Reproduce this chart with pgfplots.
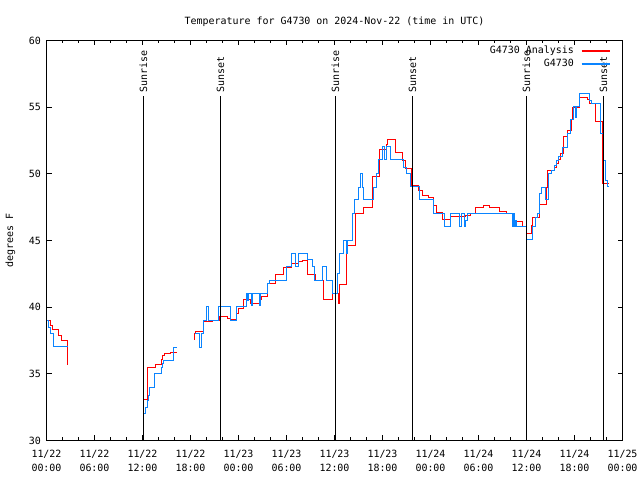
\documentclass[border=0pt]{standalone}
\usepackage{fontspec}
\setmainfont{DejaVu Sans Mono}
\usepackage{pgfplots}
\pgfplotsset{compat=1.18}
\definecolor{obsblue}{HTML}{0A84FF}
\definecolor{anared}{HTML}{FF0000}
\begin{document}
\begin{tikzpicture}
\useasboundingbox (0,0) rectangle (640bp,480bp);
\fill[white] (0,0) rectangle (640bp,480bp);
\begin{axis}[
  at={(46.5bp,39.5bp)}, anchor=south west,
  scale only axis, width=576bp, height=400bp,
  xmin=0, xmax=72, ymin=30, ymax=60,
  x filter/.expression={round(8*x)/8},
  y filter/.expression={30+round((y-30)*40/3)*3/40},
  xtick={0,6,...,72},
  xticklabels={11/22\\00:00,11/22\\06:00,11/22\\12:00,11/22\\18:00,11/23\\00:00,11/23\\06:00,11/23\\12:00,11/23\\18:00,11/24\\00:00,11/24\\06:00,11/24\\12:00,11/24\\18:00,11/25\\00:00},
  minor x tick num=2,
  ytick={30,35,...,60},
  tick align=inside, major tick length=5bp, minor tick length=3bp,
  tick style={black, line width=1bp},
  axis line style={line width=1bp},
  xticklabel style={align=center, font=\fontsize{10}{14}\selectfont, yshift=-6pt},
  yticklabel style={xshift=-2pt},
  /pgf/number format/assume math mode=true,
  title={Temperature for G4730 on 2024-Nov-22 (time in UTC)},
  every axis title/.style={at={(axis description cs:0.5,1)}, anchor=base, yshift=16pt},
  ylabel={degrees F},
  every axis y label/.style={at={(axis description cs:-0.0625,0.5)}, rotate=90, anchor=center},
  legend style={at={(1,1)}, anchor=north east, xshift=-12bp, yshift=-4bp, draw=none, fill=none,
    inner sep=0pt, row sep=0pt, column sep=6bp,
    nodes={text height=7bp, text depth=2bp, inner ysep=2bp, inner xsep=1bp}},
  legend cell align=right,
  legend plot pos=right,
  legend image code/.code={\draw[#1] (0bp,0bp) -- (28bp,0bp);},
]
% analysis
\addplot[draw=anared, line width=1.5bp, const plot] coordinates {
(0,39.0)(0.5,38.6)(0.79,38.3)(1.54,37.9)(1.84,37.5)(2.66,35.7)};
\addlegendentry{G4730 Analysis}
% observations
\addplot[draw=obsblue, line width=1.5bp, const plot] coordinates {
(0,39.0)(0.29,38.5)(0.5,38.0)(0.88,37.05)(2.66,37.05)};
\addlegendentry{G4730}
\addplot[draw=anared, line width=1.5bp, const plot, forget plot] coordinates {
(12.21,33.1)(12.59,35.5)(13.66,35.7)(14.34,36.05)(14.54,36.4)(14.75,36.5)(15.5,36.6)(16.34,36.6)};
\addplot[draw=obsblue, line width=1.5bp, const plot, forget plot] coordinates {
(12.21,32.0)(12.41,32.45)(12.59,33.0)(12.75,33.4)(12.91,33.95)(13.54,35.0)(14.34,35.5)(14.5,35.75)(14.66,36.0)(15.91,37.0)(16.34,37.0)};
\addplot[draw=anared, line width=1.5bp, const plot, forget plot] coordinates {
(18.54,37.6)(18.56,38.0)(18.63,38.15)(19.63,38.9)(20.71,39.0)(21.66,39.3)(22.66,39.15)(23.0,39.1)(23.75,39.5)(24.0,39.9)(24.66,40.6)(25.5,40.3)(26.66,40.55)(26.84,40.8)(27.59,41.8)(28.66,42.45)(29.59,43.0)(30.59,43.25)(31.46,43.4)(31.96,43.5)(32.66,42.45)(33.63,42.0)(34.66,40.55)(35.71,41.0)(36.54,40.25)(36.66,41.7)(37.5,44.6)(38.63,47.05)(39.66,47.45)(40.71,49.8)(41.66,51.8)(42.5,52.2)(42.66,52.6)(43.63,51.6)(44.54,51.0)(44.84,50.4)(45.59,49.1)(46.54,48.75)(46.96,48.4)(47.79,48.25)(48.41,47.6)(48.75,47.1)(49.46,46.6)(50.5,46.8)(52.38,46.9)(53.0,47.0)(53.63,47.5)(54.59,47.6)(55.41,47.5)(56.66,47.2)(57.5,47.0)(58.41,46.45)(59.46,46.05)(60.04,45.55)(60.59,46.1)(60.79,46.75)(61.66,47.7)(62.5,49.0)(62.66,50.25)(63.5,50.5)(63.75,50.8)(64.0,51.1)(64.25,51.5)(64.66,52.8)(65.09,53.25)(65.59,54.05)(65.71,55.0)(66.66,55.75)(67.66,55.55)(67.91,55.25)(68.63,53.9)(69.46,49.3)(70.29,49.3)
};
\addplot[draw=obsblue, line width=1.5bp, const plot, forget plot] coordinates {
(18.54,38.0)(19.16,37.0)(19.38,38.0)(19.63,39.0)(20.0,40.05)(20.25,39.0)(21.54,40.05)(23.0,39.0)(23.71,40.05)(24.96,41.0)(25.12,40.5)(25.25,41.0)(25.59,40.1)(25.79,41.0)(26.66,40.1)(26.75,41.0)(27.59,41.8)(27.91,42.0)(30.0,43.05)(30.59,44.0)(31.13,43.05)(31.46,44.0)(32.66,43.55)(33.21,43.05)(33.5,42.0)(34.46,43.05)(35.0,42.0)(35.71,41.0)(36.41,42.5)(36.66,44.0)(37.16,45.0)(37.5,44.0)(37.66,45.0)(38.21,47.0)(38.5,48.05)(39.04,49.0)(39.25,50.0)(39.46,49.0)(39.66,48.05)(40.84,49.0)(41.25,50.0)(41.46,51.05)(41.96,52.05)(42.25,51.05)(42.5,52.05)(43.0,51.05)(44.66,50.5)(45.0,50.0)(45.5,49.05)(46.66,48.05)(48.34,47.05)(49.75,46.05)(50.5,47.0)(51.66,46.05)(51.9,47.0)(52.2,46.05)(52.4,46.5)(52.6,47.0)(58.21,46.05)(58.38,47.0)(58.5,46.05)(58.63,46.5)(58.75,46.05)(60.0,45.05)(60.71,46.05)(61.13,46.75)(61.41,47.05)(61.66,48.5)(61.84,49.0)(62.38,48.1)(62.79,50.0)(63.16,50.25)(63.5,50.6)(63.75,51.0)(64.0,51.3)(64.46,52.0)(65.09,53.0)(65.5,54.05)(65.91,55.05)(66.1,54.2)(66.25,55.05)(66.66,56.05)(67.91,55.5)(68.09,55.25)(69.25,53.05)(69.66,51.0)(69.88,49.5)(70.09,49.05)(70.38,49.05)
};
% sunrise / sunset lines
\addplot[black, line width=1bp, forget plot] coordinates {(12.125,30) (12.125,55.8)};
\addplot[black, line width=1bp, forget plot] coordinates {(21.75,30) (21.75,55.8)};
\addplot[black, line width=1bp, forget plot] coordinates {(36.125,30) (36.125,55.8)};
\addplot[black, line width=1bp, forget plot] coordinates {(45.75,30) (45.75,55.8)};
\addplot[black, line width=1bp, forget plot] coordinates {(60.0,30) (60.0,55.8)};
\addplot[black, line width=1bp, forget plot] coordinates {(69.625,30) (69.625,55.8)};
\node[rotate=90, anchor=west, inner sep=0pt] at (axis cs:12.125,56.1) {Sunrise};
\node[rotate=90, anchor=west, inner sep=0pt] at (axis cs:21.75,56.1) {Sunset};
\node[rotate=90, anchor=west, inner sep=0pt] at (axis cs:36.125,56.1) {Sunrise};
\node[rotate=90, anchor=west, inner sep=0pt] at (axis cs:45.75,56.1) {Sunset};
\node[rotate=90, anchor=west, inner sep=0pt] at (axis cs:60.0,56.1) {Sunrise};
\node[rotate=90, anchor=west, inner sep=0pt] at (axis cs:69.625,56.1) {Sunset};
\end{axis}
\end{tikzpicture}
\end{document}
